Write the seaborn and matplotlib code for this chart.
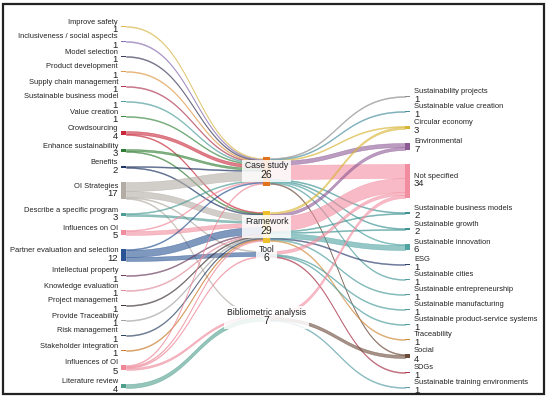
import numpy as np
import matplotlib.pyplot as plt
import seaborn as sns
from matplotlib.patches import Rectangle

sns.set_theme(style="white")
plt.rcParams["font.family"] = ["Liberation Sans", "DejaVu Sans"]

# -----------------------------
# Nodes
# -----------------------------
left_names = [
    "Improve safety", "Inclusiveness / social aspects", "Model selection",
    "Product development", "Supply chain management", "Sustainable business model",
    "Value creation", "Crowdsourcing", "Enhance sustainability", "Benefits",
    "OI Strategies", "Describe a specific program", "Influences on OI",
    "Partner evaluation and selection", "Intellectual property", "Knowledge evaluation",
    "Project management", "Provide Traceability", "Risk management",
    "Stakeholder integration", "Influences of OI", "Literature review",
]
left_colors = [
    "#d9b84a", "#8a6fb0", "#3d3d5c", "#e09a4a", "#b03a55", "#4f9e9e",
    "#3b8a44", "#c8283a", "#2f7d32", "#1f3563", "#b3aca4", "#4d9c95",
    "#f08c9e", "#2a5494", "#6b3d5e", "#e08a9a", "#3f3535", "#a3a3a3",
    "#2e4463", "#c97a2a", "#ee8899", "#4e9e8c",
]

mid_names = ["Case study", "Framework", "Tool", "Bibliometric analysis"]
mid_colors = ["#e0731c", "#f0c02c", "#9aa4b0", "#d9d9d9"]

right_names = [
    "Sustainability projects", "Sustainable value creation", "Circular economy",
    "Environmental", "Not specified", "Sustainable business models",
    "Sustainable growth", "Sustainable innovation", "ESG", "Sustainable cities",
    "Sustainable entrepreneurship", "Sustainable manufacturing",
    "Sustainable product-service systems", "Traceability", "Social", "SDGs",
    "Sustainable training environments",
]
right_colors = [
    "#8c8c8c", "#4a8fa0", "#d9b535", "#8e5a96", "#f28da0", "#3f9494",
    "#3f9494", "#4fa3a3", "#2e4070", "#4f9e9e", "#4f9e9e", "#4f9e9e",
    "#4f9e9e", "#cf8a3a", "#6b4a3a", "#a8344a", "#5a9ea8",
]

# -----------------------------
# Flows (left -> middle)
# -----------------------------
flow1_src = [
    "Improve safety", "Inclusiveness / social aspects", "Model selection",
    "Product development", "Supply chain management", "Sustainable business model",
    "Value creation",
    "Crowdsourcing", "Crowdsourcing",
    "Enhance sustainability", "Enhance sustainability",
    "Benefits", "Benefits",
    "OI Strategies", "OI Strategies", "OI Strategies", "OI Strategies",
    "Describe a specific program", "Describe a specific program",
    "Influences on OI", "Influences on OI",
    "Partner evaluation and selection", "Partner evaluation and selection",
    "Partner evaluation and selection",
    "Intellectual property", "Knowledge evaluation", "Project management",
    "Provide Traceability", "Risk management", "Stakeholder integration",
    "Influences of OI", "Influences of OI", "Influences of OI", "Influences of OI",
    "Literature review",
]
flow1_dst = [
    "Case study", "Case study", "Case study", "Case study", "Case study",
    "Case study", "Case study",
    "Case study", "Framework",
    "Case study", "Framework",
    "Case study", "Framework",
    "Case study", "Framework", "Tool", "Bibliometric analysis",
    "Case study", "Framework",
    "Case study", "Framework",
    "Case study", "Framework", "Tool",
    "Framework", "Framework", "Framework", "Framework", "Framework", "Framework",
    "Case study", "Framework", "Tool", "Bibliometric analysis",
    "Bibliometric analysis",
]
flow1_val = [1, 1, 1, 1, 1, 1, 1,
             3, 1,
             2, 1,
             1, 1,
             9, 6, 1, 1,
             1, 2,
             1, 4,
             1, 7, 4,
             1, 1, 1, 1, 1, 1,
             1, 1, 1, 2,
             4]

# -----------------------------
# Flows (middle -> right)
# -----------------------------
flow2_src = (["Case study"] * 10 + ["Framework"] * 9 + ["Tool"] * 4
             + ["Bibliometric analysis"] * 3)
flow2_dst = [
    "Sustainability projects", "Sustainable value creation", "Circular economy",
    "Environmental", "Not specified", "Sustainable business models",
    "Sustainable growth", "Sustainable innovation", "Sustainable cities", "Social",
    "Circular economy", "Environmental", "Not specified", "Sustainable business models",
    "Sustainable growth", "Sustainable innovation", "ESG",
    "Sustainable entrepreneurship", "Traceability",
    "Not specified", "Sustainable manufacturing",
    "Sustainable product-service systems", "SDGs",
    "Not specified", "Social", "Sustainable training environments",
]
flow2_val = [1, 1, 1, 4, 14, 1, 1, 1, 1, 1,
             2, 3, 14, 1, 1, 5, 1, 1, 1,
             3, 1, 1, 1,
             3, 3, 1]

# -----------------------------
# Layout
# -----------------------------
SCALE = 1.0
PAD = 14
LEFT_TOP, RIGHT_TOP = 26, 96
MID_GAPS = [158, 28, 10, 57]
X_LEFT, X_MID, X_RIGHT = 121, 263, 405
W_SIDE, W_MID = 5, 7


def node_totals(names, srcs, dsts, vals):
    tot = []
    for n in names:
        a = sum(v for s, v in zip(srcs, vals) if s == n)
        b = sum(v for d, v in zip(dsts, vals) if d == n)
        tot.append(max(a, b))
    return tot


left_val = node_totals(left_names, flow1_src, flow1_dst, flow1_val)
mid_val = node_totals(mid_names, flow1_src + flow2_src, flow1_dst + flow2_dst,
                      flow1_val + flow2_val)
right_val = node_totals(right_names, flow2_src, flow2_dst, flow2_val)


def stack_tops(vals, start):
    tops, y = [], start
    for v in vals:
        tops.append(y)
        y += v * SCALE + PAD
    return tops


left_top = stack_tops(left_val, LEFT_TOP)
right_top = stack_tops(right_val, RIGHT_TOP)
mid_top, y = [], 0
for g, v in zip(MID_GAPS, mid_val):
    y += g
    mid_top.append(y)
    y += v * SCALE

fig = plt.figure(figsize=(5.5, 3.98), dpi=100)
ax = fig.add_axes([0, 0, 1, 1])
ax.set_xlim(0, 550)
ax.set_ylim(398, 0)
ax.axis("off")


def band(x0, x1, a0, b0, a1, b1, color, alpha=0.6):
    t = np.linspace(0, 1, 90)
    xs = x0 + (x1 - x0) * (1.5 * t * (1 - t) + t ** 3)
    s = t * t * (3 - 2 * t)
    top = a0 + (a1 - a0) * s
    bot = b0 + (b1 - b0) * s
    ax.fill_between(xs, top, bot, color=color, alpha=alpha, lw=0.4, ec=color)


def draw_stage(srcs, dsts, vals, s_names, s_tops, d_names, d_tops, x0, x1, color_by):
    si = [s_names.index(s) for s in srcs]
    di = [d_names.index(d) for d in dsts]
    out_off = {i: 0.0 for i in range(len(s_names))}
    in_off = {i: 0.0 for i in range(len(d_names))}
    ys = {}
    for k in sorted(range(len(vals)), key=lambda k: (si[k], di[k])):
        ys[k] = s_tops[si[k]] + out_off[si[k]]
        out_off[si[k]] += vals[k] * SCALE
    yd = {}
    for k in sorted(range(len(vals)), key=lambda k: (di[k], si[k])):
        yd[k] = d_tops[di[k]] + in_off[di[k]]
        in_off[di[k]] += vals[k] * SCALE
    for k in range(len(vals)):
        h = vals[k] * SCALE
        c = color_by(si[k], di[k])
        band(x0, x1, ys[k], ys[k] + h, yd[k], yd[k] + h, c)


draw_stage(flow1_src, flow1_dst, flow1_val, left_names, left_top, mid_names, mid_top,
           X_LEFT + W_SIDE, X_MID, lambda s, d: left_colors[s])
draw_stage(flow2_src, flow2_dst, flow2_val, mid_names, mid_top, right_names, right_top,
           X_MID + W_MID, X_RIGHT, lambda s, d: right_colors[d])

# nodes
for top, v, c in zip(left_top, left_val, left_colors):
    ax.add_patch(Rectangle((X_LEFT, top), W_SIDE, v * SCALE, color=c, lw=0))
for top, v, c in zip(right_top, right_val, right_colors):
    ax.add_patch(Rectangle((X_RIGHT, top), W_SIDE, v * SCALE, color=c, lw=0))
for top, v, c in zip(mid_top, mid_val, mid_colors):
    ax.add_patch(Rectangle((X_MID, top - 1.5), W_MID, v * SCALE + 3, color=c, lw=0))

# labels
for name, top, v in zip(left_names, left_top, left_val):
    cy = top + v * SCALE / 2
    ax.text(X_LEFT - 3, cy - 4.5, name, ha="right", va="center", fontsize=5.4, color="#222")
    ax.text(X_LEFT - 3, cy + 3.5, str(v), ha="right", va="center", fontsize=6.8, color="#222")

for name, top, v in zip(right_names, right_top, right_val):
    cy = top + v * SCALE / 2
    ax.text(X_RIGHT + 9, cy - 5, name, ha="left", va="center", fontsize=5.4, color="#222")
    ax.text(X_RIGHT + 9, cy + 3, str(v), ha="left", va="center", fontsize=6.8, color="#222")

# middle labels on a translucent white box
renderer = fig.canvas.get_renderer()
inv = ax.transData.inverted()
for name, top, v in zip(mid_names, mid_top, mid_val):
    cy = top + v * SCALE / 2
    cx = X_MID + W_MID / 2
    t1 = ax.text(cx, cy - 5, name, ha="center", va="center", fontsize=6.2, color="#222", zorder=5)
    t2 = ax.text(cx, cy + 4, str(v), ha="center", va="center", fontsize=7.5, color="#222", zorder=5)
    (ax0, ay0), (ax1, ay1) = inv.transform(t1.get_window_extent(renderer).get_points())
    (bx0, by0), (bx1, by1) = inv.transform(t2.get_window_extent(renderer).get_points())
    xa, xb = min(ax0, bx0) - 3, max(ax1, bx1) + 3
    ya, yb = min(ay0, ay1, by0, by1) - 2, max(ay0, ay1, by0, by1) + 2
    ax.add_patch(Rectangle((xa, ya), xb - xa, yb - ya, fc="white", ec="none",
                           alpha=0.85, zorder=4))

# outer frame
fig.patches.append(Rectangle((3 / 550, 4 / 398), 541 / 550, 390 / 398, transform=fig.transFigure,
                             fill=False, lw=1.6, ec="#222"))

fig.savefig("out.png", dpi=100)
